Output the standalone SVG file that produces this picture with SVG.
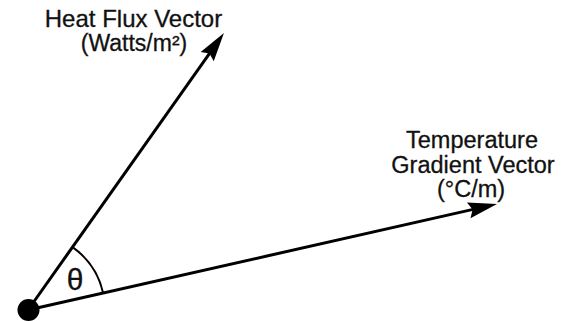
<svg xmlns="http://www.w3.org/2000/svg" width="566" height="321" viewBox="0 0 566 321">
  <style>
    .lbl { font-family: "Liberation Sans", Arial, sans-serif; fill: #111; stroke: #111; stroke-width: 0.3; text-anchor: middle; }
    .vec { stroke: #000; stroke-width: 3; fill: none; marker-end: url(#arrow); }
    .arc { stroke: #000; stroke-width: 2; fill: none; }
  </style>
  <defs>
    <marker id="arrow" markerUnits="userSpaceOnUse" refX="0" refY="0" markerWidth="40" markerHeight="20" orient="auto" overflow="visible">
      <path d="M20,0 L-9,-8 L-5,0 L-9,8 Z" fill="#000"/>
    </marker>
  </defs>
  <rect width="566" height="321" fill="#fff"/>
  <g id="connectors">
    <line class="vec" x1="28" y1="310" x2="212.4" y2="49.3"/>
    <line class="vec" x1="28" y1="310" x2="477.5" y2="208.4"/>
    <path class="arc" d="M72.5,247.1 A77,77 0 0 1 103.1,293"/>
  </g>
  <g id="origin">
    <circle cx="28.5" cy="310" r="11" fill="#000"/>
  </g>
  <g id="theta">
    <text class="lbl" x="75" y="290" font-size="30">θ</text>
  </g>
  <g id="heat-flux">
    <text class="lbl" x="133.5" y="27" font-size="24">Heat Flux Vector</text>
    <text class="lbl" x="134" y="51" font-size="23">(Watts/m²)</text>
  </g>
  <g id="temperature-gradient">
    <text class="lbl" x="472" y="148" font-size="23.5">Temperature</text>
    <text class="lbl" x="473" y="173" font-size="23.5">Gradient Vector</text>
    <text class="lbl" x="471" y="197" font-size="23.5">(°C/m)</text>
  </g>
</svg>
